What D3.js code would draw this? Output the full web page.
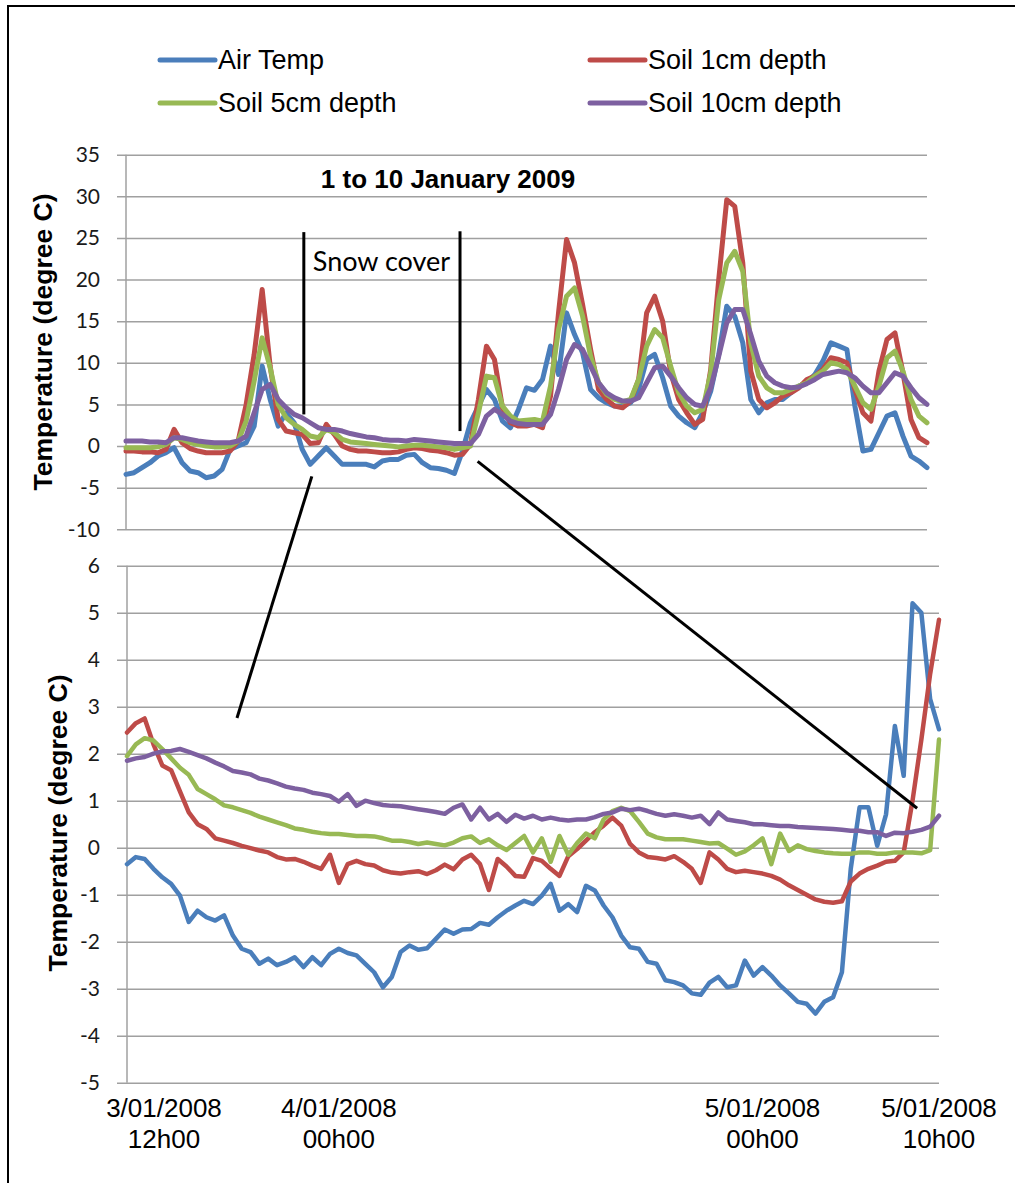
<!DOCTYPE html>
<html>
<head>
<meta charset="utf-8">
<script src="https://cdn.jsdelivr.net/npm/d3@7"></script>
<style>
  body { margin: 0; background: #fff; }
  svg { display: block; }
</style>
</head>
<body>
<div id="chart"></div>
<script>
// Series names and colours (Excel 2007 palette)
const seriesNames = ["Air Temp", "Soil 1cm depth", "Soil 5cm depth", "Soil 10cm depth"];
const seriesColors = ["#4a7ebb", "#be4b48", "#98b954", "#7d60a0"];

// Top panel: 1 to 10 January, one reading every 0.1 day
const topStepDays = 0.1;
const airTop = [
  -3.4, -3.2, -2.6, -2.0, -1.2, -0.8, -0.2, -2.0, -3.0, -3.2,
  -3.8, -3.6, -2.8, -0.4, 0.0, 0.4, 2.4, 9.6, 5.6, 2.4,
  4.0, 2.8, -0.4, -2.2, -1.2, -0.2, -1.2, -2.2, -2.2, -2.2,
  -2.2, -2.5, -1.8, -1.6, -1.6, -1.1, -1.0, -2.0, -2.6, -2.7,
  -2.9, -3.3, -0.6, 2.8, 4.8, 6.8, 5.6, 3.0, 2.2, 4.4,
  7.0, 6.7, 8.0, 12.0, 8.6, 16.0, 13.4, 11.2, 6.8, 5.8,
  5.2, 4.8, 4.8, 5.2, 6.8, 10.4, 11.0, 8.2, 4.8, 3.6,
  2.8, 2.2, 4.0, 6.6, 11.0, 16.8, 15.6, 12.4, 5.6, 4.0,
  5.2, 5.6, 5.6, 6.4, 7.2, 7.6, 8.6, 10.2, 12.4, 12.0,
  11.6, 4.8, -0.6, -0.4, 1.6, 3.6, 4.0, 1.2, -1.2, -1.8,
  -2.6
];
const soil1Top = [
  -0.6, -0.6, -0.7, -0.7, -0.8, -0.4, 2.0, 0.4, -0.3, -0.6,
  -0.8, -0.8, -0.8, -0.6, 0.6, 5.0, 11.0, 18.8, 9.6, 3.2,
  1.8, 1.6, 1.4, 0.3, 0.4, 2.6, 1.4, 0.0, -0.4, -0.6,
  -0.6, -0.7, -0.8, -0.8, -0.7, -0.4, -0.2, -0.3, -0.5, -0.6,
  -0.8, -1.1, -1.0, 0.2, 5.6, 12.0, 10.4, 4.6, 2.8, 2.4,
  2.4, 2.6, 2.2, 6.0, 16.0, 24.8, 22.0, 17.0, 11.6, 6.8,
  5.6, 4.8, 4.6, 5.4, 8.0, 16.0, 18.0, 15.0, 8.8, 5.6,
  4.0, 2.6, 3.2, 9.2, 20.0, 29.6, 28.8, 22.0, 9.0, 5.6,
  4.6, 5.2, 6.0, 6.4, 7.0, 8.0, 8.4, 9.2, 10.6, 10.4,
  10.0, 6.8, 4.0, 3.0, 9.0, 12.8, 13.6, 8.8, 3.2, 1.0,
  0.4
];
const soil5Top = [
  -0.2, -0.2, -0.2, -0.2, -0.1, 0.2, 1.0, 0.8, 0.4, 0.2,
  0.0, -0.1, -0.1, 0.0, 0.6, 3.0, 7.8, 13.0, 9.4, 5.0,
  3.4, 2.6, 2.0, 1.2, 1.0, 2.0, 1.6, 0.8, 0.5, 0.4,
  0.3, 0.2, 0.1, 0.0, -0.1, 0.0, 0.1, 0.1, 0.0, -0.1,
  -0.2, -0.4, -0.2, 0.0, 4.0, 8.4, 8.2, 4.8, 3.6, 3.0,
  3.1, 3.2, 3.0, 7.2, 14.0, 18.0, 19.0, 15.6, 10.8, 7.6,
  6.2, 5.6, 5.3, 5.6, 8.0, 12.0, 14.0, 13.0, 9.6, 6.4,
  4.8, 4.0, 4.4, 8.8, 17.6, 22.0, 23.4, 21.0, 12.4, 8.4,
  7.0, 6.4, 6.4, 6.8, 7.2, 7.6, 8.4, 9.0, 10.0, 9.8,
  9.2, 7.2, 5.2, 4.4, 7.2, 10.6, 11.4, 9.0, 5.6, 3.6,
  2.8
];
const soil10Top = [
  0.6, 0.6, 0.6, 0.5, 0.5, 0.4, 1.0, 1.0, 0.8, 0.6,
  0.5, 0.4, 0.4, 0.4, 0.6, 1.2, 4.0, 6.8, 7.4, 5.6,
  4.6, 3.8, 3.4, 2.8, 2.2, 2.0, 2.0, 1.8, 1.5, 1.3,
  1.1, 1.0, 0.8, 0.7, 0.7, 0.6, 0.8, 0.7, 0.6, 0.5,
  0.4, 0.3, 0.3, 0.3, 1.4, 3.6, 4.4, 3.8, 3.0, 2.7,
  2.6, 2.6, 2.6, 3.8, 6.8, 10.4, 12.2, 11.6, 9.6, 7.6,
  6.4, 5.8, 5.4, 5.4, 5.8, 7.6, 9.4, 9.6, 8.4, 7.0,
  5.8, 5.0, 4.8, 7.0, 10.8, 14.8, 16.4, 16.4, 13.4, 10.2,
  8.4, 7.6, 7.2, 7.0, 7.1, 7.5, 8.0, 8.6, 8.8, 9.0,
  8.8, 8.2, 7.2, 6.4, 6.4, 7.6, 8.8, 8.4, 7.0, 5.8,
  5.0
];

// Bottom panel: 3/01 12h00 to 5/01 10h00, one reading every 0.5 h
const botStepHours = 0.5;
const airBot = [
  -0.35, -0.2, -0.24, -0.45, -0.63, -0.77, -1.02, -1.58, -1.34, -1.48,
  -1.55, -1.44, -1.87, -2.15, -2.22, -2.47, -2.36, -2.5, -2.43, -2.33,
  -2.54, -2.33, -2.5, -2.26, -2.15, -2.24, -2.29, -2.47, -2.65, -2.97,
  -2.75, -2.22, -2.08, -2.17, -2.14, -1.94, -1.74, -1.83, -1.74, -1.73,
  -1.6, -1.64, -1.48, -1.34, -1.23, -1.13, -1.2, -1.02, -0.77, -1.34,
  -1.2, -1.37, -0.81, -0.91, -1.23, -1.48, -1.87, -2.12, -2.15, -2.43,
  -2.47, -2.82, -2.86, -2.93, -3.1, -3.13, -2.87, -2.75, -2.97, -2.93,
  -2.4, -2.72, -2.54, -2.72, -2.93, -3.1, -3.28, -3.32, -3.53, -3.28,
  -3.18, -2.65, -0.45, 0.86, 0.86, 0.04, 0.71, 2.59, 1.53, 5.2,
  5.0, 3.16, 2.52
];
const soil1Bot = [
  2.45, 2.65, 2.75, 2.2, 1.75, 1.65, 1.2, 0.75, 0.5, 0.4,
  0.2, 0.15, 0.1, 0.04, -0.01, -0.06, -0.1, -0.2, -0.25, -0.24,
  -0.3, -0.38, -0.45, -0.15, -0.75, -0.35, -0.28, -0.35, -0.38, -0.48,
  -0.53, -0.55, -0.52, -0.5, -0.56, -0.48, -0.36, -0.46, -0.25, -0.15,
  -0.35, -0.9, -0.24, -0.4, -0.6, -0.62, -0.22, -0.28, -0.45, -0.6,
  -0.18, -0.03, 0.15, 0.33, 0.47, 0.64, 0.47, 0.08, -0.1, -0.2,
  -0.22, -0.25, -0.18, -0.3, -0.45, -0.75, -0.1, -0.25, -0.45, -0.52,
  -0.49, -0.52, -0.55, -0.6, -0.68, -0.8, -0.9, -1.0, -1.1, -1.15,
  -1.17, -1.14, -0.72, -0.55, -0.45, -0.38, -0.3, -0.28, -0.1, 1.0,
  2.3, 3.7, 4.85
];
const soil5Bot = [
  1.95, 2.2, 2.33, 2.28, 2.1, 1.9, 1.7, 1.55, 1.25, 1.14,
  1.03, 0.9, 0.86, 0.8, 0.74, 0.66, 0.6, 0.54, 0.48, 0.41,
  0.38, 0.34, 0.31, 0.29, 0.29, 0.27, 0.25, 0.25, 0.24, 0.2,
  0.15, 0.15, 0.12, 0.08, 0.11, 0.08, 0.05, 0.11, 0.2, 0.24,
  0.1, 0.18, 0.05, -0.05, 0.1, 0.25, -0.1, 0.2, -0.3, 0.25,
  -0.15, 0.1, 0.3, 0.2, 0.6, 0.78, 0.85, 0.78, 0.55, 0.3,
  0.22, 0.18, 0.18, 0.18, 0.15, 0.12, 0.09, 0.1, -0.02, -0.15,
  -0.08, 0.05, 0.2, -0.35, 0.3, -0.07, 0.05, -0.03, -0.07, -0.1,
  -0.12, -0.13, -0.13, -0.1, -0.1, -0.13, -0.13, -0.1, -0.1, -0.1,
  -0.12, -0.05, 2.3
];
const soil10Bot = [
  1.85, 1.9, 1.93, 2.0, 2.05, 2.06, 2.1, 2.04, 1.97, 1.9,
  1.81, 1.73, 1.63, 1.6, 1.56, 1.47, 1.43, 1.37, 1.3, 1.26,
  1.23, 1.17, 1.14, 1.1, 0.98, 1.14, 0.89, 1.0, 0.95, 0.91,
  0.89, 0.88, 0.85, 0.82, 0.79, 0.76, 0.72, 0.85, 0.92, 0.6,
  0.85, 0.6, 0.72, 0.55, 0.7, 0.62, 0.68, 0.6, 0.64, 0.6,
  0.58, 0.6, 0.6, 0.65, 0.72, 0.75, 0.83, 0.8, 0.83, 0.78,
  0.72, 0.68, 0.71, 0.68, 0.64, 0.68, 0.5, 0.75, 0.6, 0.57,
  0.54, 0.5, 0.5, 0.48, 0.46, 0.46, 0.44, 0.43, 0.42, 0.41,
  0.4, 0.38, 0.36, 0.36, 0.33, 0.33, 0.25, 0.32, 0.31, 0.34,
  0.38, 0.45, 0.68
];

// Axis ticks and bottom time labels
const topTicks = [-10, -5, 0, 5, 10, 15, 20, 25, 30, 35];
const botTicks = [-5, -4, -3, -2, -1, 0, 1, 2, 3, 4, 5, 6];
const timeTickHours = [0, 12, 36, 46];
const timeTickDates = ["3/01/2008", "4/01/2008", "5/01/2008", "5/01/2008"];
const timeTickClock = ["12h00", "00h00", "00h00", "10h00"];

// Annotations (data units)
const snowStartDay = 2.22, snowEndDay = 4.17;

const topSeries = [airTop, soil1Top, soil5Top, soil10Top];
const botSeries = [airBot, soil1Bot, soil5Bot, soil10Bot];

const width = 1015, height = 1183;
const gridColor = "#a0a0a0";

const svg = d3.select("#chart").append("svg")
    .attr("width", width)
    .attr("height", height);

svg.append("rect").attr("width", width).attr("height", height).attr("fill", "#fff");

// outer frame (runs off the right and bottom edges)
svg.append("rect")
    .attr("x", 8).attr("y", 6)
    .attr("width", 1040).attr("height", 1220)
    .attr("fill", "none").attr("stroke", "#000").attr("stroke-width", 2);

// Scales
const xTop = d3.scaleLinear().domain([0, 10]).range([126, 927]);
const yTop = d3.scaleLinear().domain([-10, 35]).range([529.3, 154.7]);
const xBot = d3.scaleLinear().domain([0, 46]).range([127, 939]);
const yBot = d3.scaleLinear().domain([-5, 6]).range([1082.7, 565.7]);

// Gridlines + tick labels
function drawGrid(y, ticks, axisX, rightX) {
    const g = svg.append("g").attr("transform", `translate(117,0)`);
    g.call(d3.axisLeft(y)
            .tickValues(ticks)
            .tickSize(-(rightX - 117))
            .tickPadding(17)
            .tickFormat(d => String(d)));
    g.select(".domain").remove();
    g.selectAll(".tick line").attr("stroke", gridColor).attr("stroke-width", 1.5);
    g.selectAll(".tick text")
        .attr("font-family", "Lato, 'Open Sans', sans-serif")
        .attr("font-size", 21)
        .attr("fill", "#1a1a1a");
    // vertical axis line
    svg.append("line")
        .attr("x1", axisX).attr("x2", axisX)
        .attr("y1", y(ticks[0])).attr("y2", y(ticks[ticks.length - 1]))
        .attr("stroke", gridColor).attr("stroke-width", 1.5);
}
drawGrid(yTop, topTicks, xTop(0), xTop(10));
drawGrid(yBot, botTicks, xBot(0), xBot(46));

// Series lines
const lineTop = d3.line().x((d, i) => xTop(i * topStepDays)).y(d => yTop(d));
const lineBot = d3.line().x((d, i) => xBot(i * botStepHours)).y(d => yBot(d));

topSeries.forEach((values, s) => {
    svg.append("path")
        .attr("d", lineTop(values))
        .attr("fill", "none")
        .attr("stroke", seriesColors[s])
        .attr("stroke-width", 5)
        .attr("stroke-linejoin", "round")
        .attr("stroke-linecap", "round");
});
botSeries.forEach((values, s) => {
    svg.append("path")
        .attr("d", lineBot(values))
        .attr("fill", "none")
        .attr("stroke", seriesColors[s])
        .attr("stroke-width", 4.5)
        .attr("stroke-linejoin", "round")
        .attr("stroke-linecap", "round");
});

// Legend
const legendPos = [[160, 60], [590, 60], [160, 103], [590, 103]];
seriesNames.forEach((name, i) => {
    const [lx, ly] = legendPos[i];
    svg.append("line")
        .attr("x1", lx).attr("x2", lx + 55)
        .attr("y1", ly).attr("y2", ly)
        .attr("stroke", seriesColors[i]).attr("stroke-width", 5)
        .attr("stroke-linecap", "round");
    svg.append("text")
        .attr("x", lx + 58).attr("y", ly)
        .attr("dy", "0.35em")
        .attr("font-family", "'Liberation Sans', Arial, sans-serif")
        .attr("font-size", 27)
        .attr("fill", "#000")
        .text(name);
});

// Top chart title
svg.append("text")
    .attr("x", 448).attr("y", 188)
    .attr("text-anchor", "middle")
    .attr("font-family", "'Liberation Sans', Arial, sans-serif")
    .attr("font-weight", "bold")
    .attr("font-size", 26)
    .text("1 to 10 January 2009");

// Snow cover markers
[[snowStartDay, 25.7, 3.8], [snowEndDay, 25.8, 1.8]].forEach(([d, v0, v1]) => {
    svg.append("line")
        .attr("x1", xTop(d)).attr("x2", xTop(d))
        .attr("y1", yTop(v0)).attr("y2", yTop(v1))
        .attr("stroke", "#000").attr("stroke-width", 3);
});
svg.append("text")
    .attr("x", xTop(snowStartDay) + 9).attr("y", 271)
    .attr("font-family", "Lato, 'Open Sans', sans-serif")
    .attr("font-size", 27)
    .text("Snow cover");

// Zoom connector lines
svg.append("line")
    .attr("x1", xTop(2.32)).attr("y1", yTop(-3.64))
    .attr("x2", xBot(6.23)).attr("y2", yBot(2.76))
    .attr("stroke", "#000").attr("stroke-width", 3);
svg.append("line")
    .attr("x1", xTop(4.39)).attr("y1", yTop(-1.84))
    .attr("x2", xBot(44.76)).attr("y2", yBot(0.84))
    .attr("stroke", "#000").attr("stroke-width", 3);

// Axis titles
[[43, (yTop(-10) + yTop(35)) / 2], [58, 823]].forEach(([tx, ty]) => {
    svg.append("text")
        .attr("transform", `translate(${tx},${ty}) rotate(-90)`)
        .attr("text-anchor", "middle")
        .attr("dy", "0.35em")
        .attr("font-family", "'Liberation Sans', Arial, sans-serif")
        .attr("font-weight", "bold")
        .attr("font-size", 26.5)
        .text("Temperature (degree C)");
});

// Bottom time labels
timeTickHours.forEach((h, i) => {
    const nudge = i === 0 ? 37 : 0;
    const t = svg.append("text")
        .attr("text-anchor", "middle")
        .attr("font-family", "'Liberation Sans', Arial, sans-serif")
        .attr("font-size", 26)
        .attr("fill", "#000");
    t.append("tspan").attr("x", xBot(h) + nudge).attr("y", 1117).text(timeTickDates[i]);
    t.append("tspan").attr("x", xBot(h) + nudge).attr("y", 1148).text(timeTickClock[i]);
});
</script>
</body>
</html>
